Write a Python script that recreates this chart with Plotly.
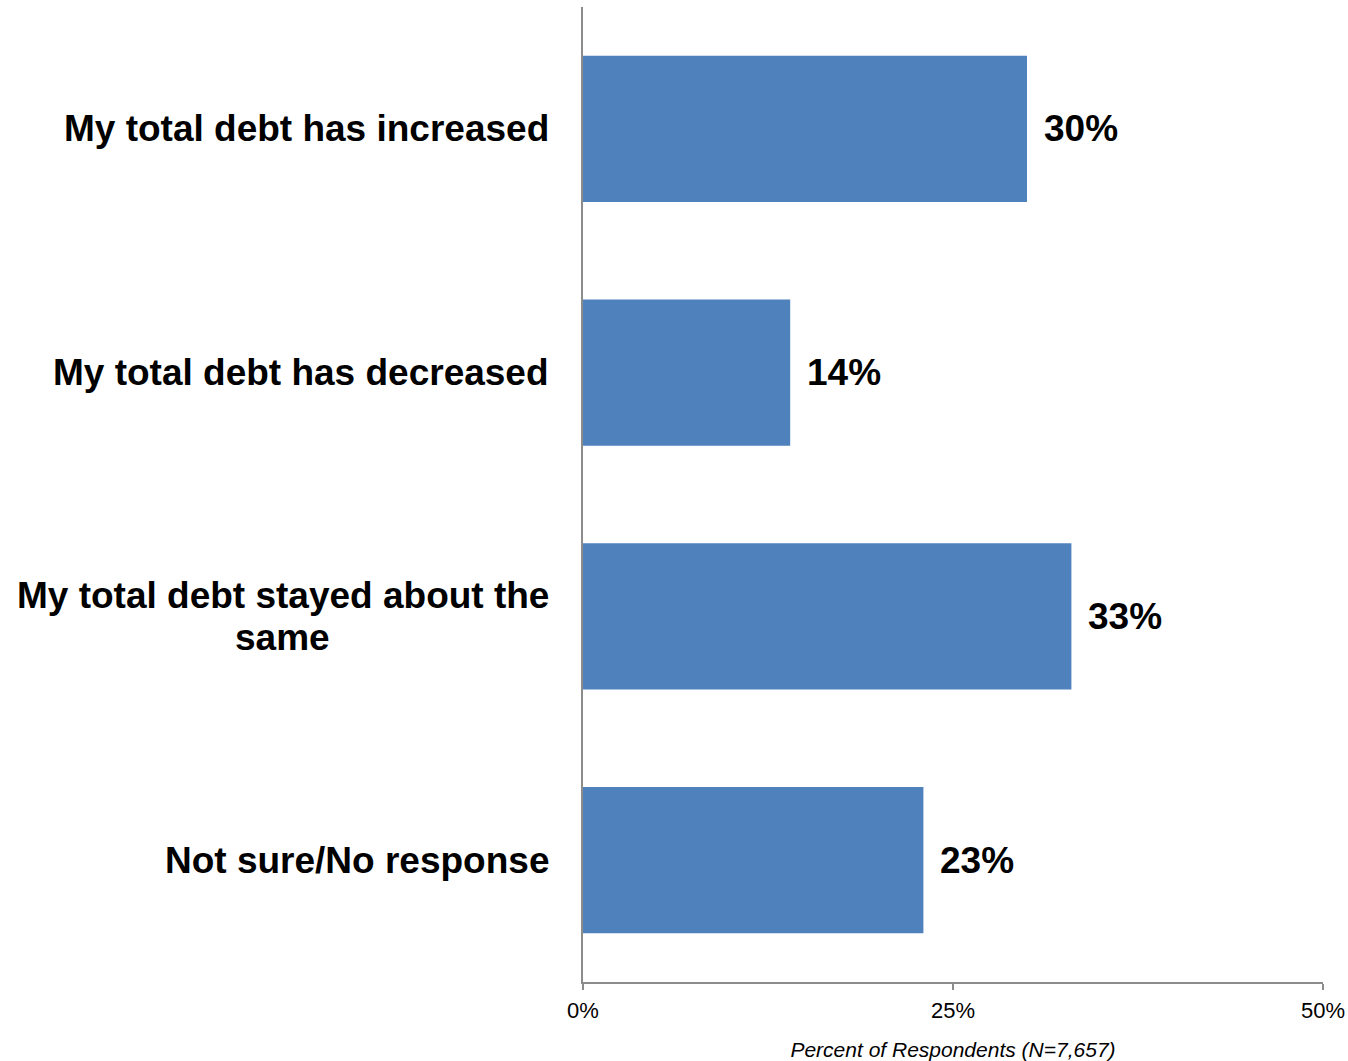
import plotly.graph_objects as go

# Survey responses: change in total debt
categories = [
    "My total debt has increased",
    "My total debt has decreased",
    "My total debt stayed about the<br>same",
    "Not sure/No response",
]
percents = [30, 14, 33, 23]
tick_values = [0, 25, 50]
tick_labels = ["0%", "25%", "50%"]
axis_title = "Percent of Respondents (N=7,657)"

BAR_COLOR = "#4F81BD"
AXIS_COLOR = "#8C8C8C"
FONT = "Liberation Sans, Arial, sans-serif"
LABEL_SIZE = 37
LINE_GAP = 42  # vertical distance between lines of a wrapped category label

fig = go.Figure(
    go.Bar(
        x=percents,
        y=categories,
        orientation="h",
        marker=dict(color=BAR_COLOR, line=dict(width=0)),
        hoverinfo="skip",
    )
)

# Category labels: each line centred under the previous, block right-aligned to the axis
for cat in categories:
    lines = cat.split("<br>")
    n = len(lines)
    widest = max(len(s) for s in lines)
    for i, line in enumerate(lines):
        fig.add_annotation(
            x=0, xref="paper", y=cat, yref="y",
            text=line, showarrow=False,
            xanchor="right" if len(line) == widest else "center",
            yanchor="middle",
            xshift=-32 if len(line) == widest else -32 - 269,
            yshift=((n - 1) / 2 - i) * LINE_GAP,
            font=dict(family=FONT, size=LABEL_SIZE, color="#000000", weight="bold"),
        )

# Value labels just past the end of each bar
for cat, val in zip(categories, percents):
    fig.add_annotation(
        x=val, xref="x", y=cat, yref="y",
        text=f"{val}%", showarrow=False,
        xanchor="left", yanchor="middle",
        xshift=15,
        font=dict(family=FONT, size=LABEL_SIZE, color="#000000", weight="bold"),
    )

fig.update_layout(
    width=1348, height=1061,
    margin=dict(l=583, r=25, t=7, b=79, pad=0),
    paper_bgcolor="white", plot_bgcolor="white",
    bargap=0.4,
    showlegend=False,
    font=dict(family=FONT, color="#000000"),
)

fig.update_xaxes(
    range=[0, 50],
    automargin=False,
    tickvals=tick_values, ticktext=tick_labels,
    ticks="outside", ticklen=6, tickcolor=AXIS_COLOR, tickwidth=2,
    ticklabelstandoff=2,
    showline=True, linecolor=AXIS_COLOR, linewidth=2,
    showgrid=False, zeroline=False,
    tickfont=dict(family=FONT, size=22, color="#000000"),
    title=dict(text=axis_title, standoff=20,
               font=dict(family=FONT, size=21, color="#000000", style="italic")),
)

fig.update_yaxes(
    type="category",
    range=[3.5, -0.5],
    automargin=False,
    showticklabels=False, ticks="",
    showline=True, linecolor=AXIS_COLOR, linewidth=2,
    showgrid=False, zeroline=False,
)

fig.write_html("out.html")
